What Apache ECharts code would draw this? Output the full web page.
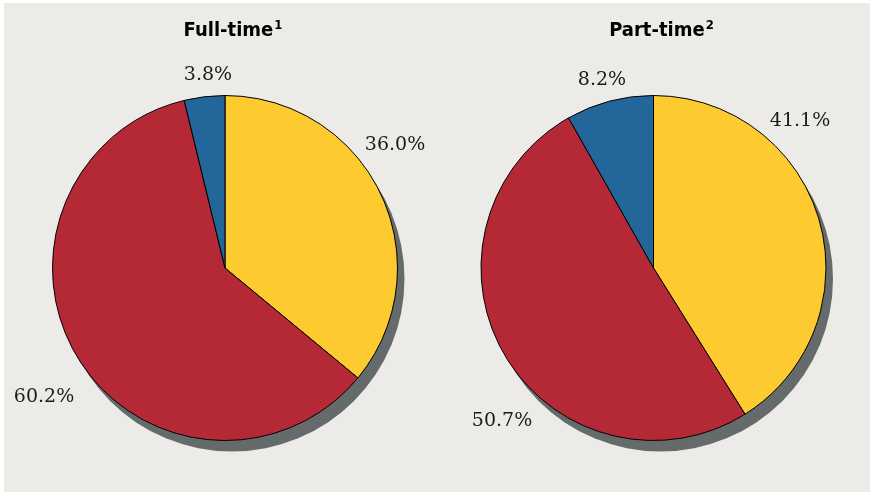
<!DOCTYPE html>
<html>
<head>
<meta charset="utf-8">
<script src="https://cdn.jsdelivr.net/npm/echarts@6/dist/echarts.min.js"></script>
<style>
  html, body { margin: 0; padding: 0; background: #ffffff; }
  #chart { position: absolute; left: 4px; top: 3px; width: 866px; height: 489px; }
</style>
</head>
<body>
<div id="chart"></div>
<script>
// Share of enrolment by category, full-time vs part-time
const categories = ['Category A', 'Category B', 'Category C'];
const fullTime = [36.0, 60.2, 3.8];
const partTime = [41.1, 50.7, 8.2];
const panelTitles = ['Full-time', 'Part-time'];
const footnotes = ['1', '2'];

const sliceColors = ['#fdca30', '#b52937', '#23679a'];
const shadowColor = '#656a6a';

// Pie geometry (px, relative to the chart box)
const radius = 172.5;
const centers = [[221, 265], [649.5, 265]];
const shadowOffset = [7, 11];

// Where each value label sits, per pie and slice
const labelAnchors = [
  [[391, 142], [40, 394], [204, 72]],
  [[796, 118], [498, 418], [598, 77]]
];

const chart = echarts.init(document.getElementById('chart'));

function buildPie(values, idx) {
  return {
    type: 'pie',
    name: panelTitles[idx],
    radius: radius,
    center: centers[idx],
    startAngle: 90,
    clockwise: true,
    animation: false,
    avoidLabelOverlap: false,
    z: 3,
    itemStyle: { borderColor: '#000000', borderWidth: 1 },
    emphasis: { disabled: true },
    label: {
      show: true,
      position: 'outside',
      overflow: 'none',
      formatter: p => p.value.toFixed(1) + '%',
      fontFamily: 'DejaVu Serif',
      fontSize: 19,
      color: '#1a1a1a'
    },
    labelLine: { show: false },
    labelLayout: p => {
      const a = labelAnchors[idx][p.dataIndex];
      return { x: a[0], y: a[1], align: 'center', verticalAlign: 'middle' };
    },
    data: values.map((v, i) => ({
      name: categories[i],
      value: v,
      itemStyle: { color: sliceColors[i] }
    }))
  };
}

function buildShadow(values, idx) {
  return {
    type: 'pie',
    radius: radius,
    center: [centers[idx][0] + shadowOffset[0], centers[idx][1] + shadowOffset[1]],
    silent: true,
    animation: false,
    z: 1,
    label: { show: false },
    labelLine: { show: false },
    itemStyle: { color: shadowColor },
    data: [{ value: values.reduce((s, v) => s + v, 0) }]
  };
}

// Panel headings with a raised footnote marker
const titleFont = '"DejaVu Sans Condensed", "DejaVu Sans", sans-serif';
const titleRich = {
  t: { fontFamily: titleFont, fontWeight: 'bold', fontSize: 20, lineHeight: 24, color: '#000000' },
  s: { fontFamily: titleFont, fontWeight: 'bold', fontSize: 13, lineHeight: 14, padding: [0, 0, 10, 1], color: '#000000' }
};

chart.setOption({
  backgroundColor: '#ecebe7',
  title: panelTitles.map((t, i) => ({
    text: '{t|' + t + '}{s|' + footnotes[i] + '}',
    left: centers[i][0] + 3,
    top: 11,
    textAlign: 'center',
    textStyle: { rich: titleRich }
  })),
  series: [
    buildShadow(fullTime, 0),
    buildShadow(partTime, 1),
    buildPie(fullTime, 0),
    buildPie(partTime, 1)
  ]
});
</script>
</body>
</html>
